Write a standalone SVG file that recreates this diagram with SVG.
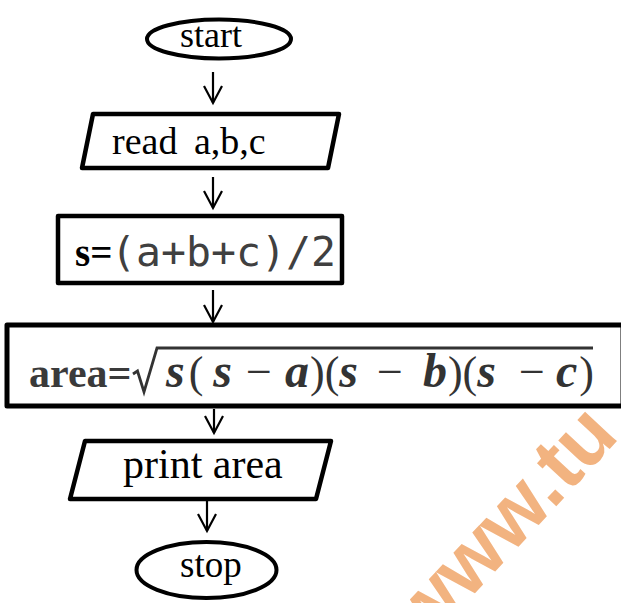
<svg xmlns="http://www.w3.org/2000/svg" width="621" height="603" viewBox="0 0 621 603">
<style>
.shape{fill:#fff;stroke:#000;stroke-linejoin:round}
.lbl{font-family:"Liberation Serif","Times New Roman",serif;fill:#000}
.mono{font-family:"DejaVu Sans Mono","Liberation Mono",monospace;fill:#404040}
.m{font-family:"Liberation Serif","Times New Roman",serif;fill:#333}
.mi{font-style:italic;font-weight:bold;font-size:48px}
.mp{font-size:44px}
.mm{font-size:46px}
.conn{stroke:#000;stroke-width:2.2;fill:none}
</style>
<defs>
<marker id="arr" viewBox="-20 -12 22 24" markerWidth="22" markerHeight="24" refX="0" refY="0" orient="auto" markerUnits="userSpaceOnUse" overflow="visible">
<path d="M-17,-9 L0,0 L-17,9" fill="none" stroke="#000" stroke-width="2.2" stroke-linejoin="miter"/>
</marker>
</defs>
<rect width="621" height="603" fill="#fff"/>
<text transform="translate(424,648) rotate(-47)" font-family="Liberation Sans, Arial, sans-serif" font-weight="bold" font-size="82" fill="#F2B380">www.tu</text>
<g id="connectors">
<line class="conn" x1="213" y1="72" x2="213" y2="103" marker-end="url(#arr)"/>
<line class="conn" x1="213" y1="177" x2="213" y2="208" marker-end="url(#arr)"/>
<line class="conn" x1="213" y1="290" x2="213" y2="322" marker-end="url(#arr)"/>
<line class="conn" x1="214" y1="409" x2="214" y2="433" marker-end="url(#arr)"/>
<line class="conn" x1="207" y1="501" x2="207" y2="531" marker-end="url(#arr)"/>
</g>
<g id="start">
<ellipse class="shape" cx="219" cy="39" rx="72" ry="19.5" stroke-width="4"/>
<text class="lbl" x="180" y="47" font-size="36">start</text>
</g>
<g id="read">
<polygon class="shape" points="93,114 339,114 328,168 82,168" stroke-width="4.5"/>
<text class="lbl" x="112" y="154" font-size="38">read<tspan x="194">a,b,c</tspan></text>
</g>
<g id="compute-s">
<rect class="shape" x="58" y="216" width="284" height="67" stroke-width="4.5"/>
<text class="lbl" x="75" y="266" font-size="39" font-weight="bold">s=</text>
<text class="mono" x="111" y="266" font-size="41.5" textLength="225" lengthAdjust="spacing">(a+b+c)/2</text>
</g>
<g id="compute-area">
<rect class="shape" x="7" y="325" width="616" height="81" stroke-width="5"/>
<text x="29" y="387" font-family="Liberation Serif, Times New Roman, serif" font-size="42" font-weight="bold" fill="#3a3a3a">area=</text>
<path d="M133,374 L137.5,371 L144,392 L157,348 L593,348" fill="none" stroke="#333" stroke-width="2.8" stroke-linejoin="miter"/>
<text class="m" x="166" y="387"><tspan class="mi">s</tspan><tspan class="mp" dx="4">(</tspan><tspan class="mi" dx="10">s</tspan><tspan class="mm" dx="14">−</tspan><tspan class="mi" dx="13">a</tspan><tspan class="mp" dx="1">)(</tspan><tspan class="mi" dx="0">s</tspan><tspan class="mm" dx="19">−</tspan><tspan class="mi" dx="20">b</tspan><tspan class="mp" dx="1">)(</tspan><tspan class="mi" dx="0">s</tspan><tspan class="mm" dx="23">−</tspan><tspan class="mi" dx="11">c</tspan><tspan class="mp" dx="2">)</tspan></text>
</g>
<g id="print">
<polygon class="shape" points="85,441 331,441 316,499 70,499" stroke-width="4.5"/>
<text class="lbl" x="123" y="478" font-size="42">print area</text>
</g>
<g id="stop">
<ellipse class="shape" cx="206.5" cy="570" rx="70" ry="28" stroke-width="4"/>
<text class="lbl" x="180" y="577" font-size="37">stop</text>
</g>
</svg>
